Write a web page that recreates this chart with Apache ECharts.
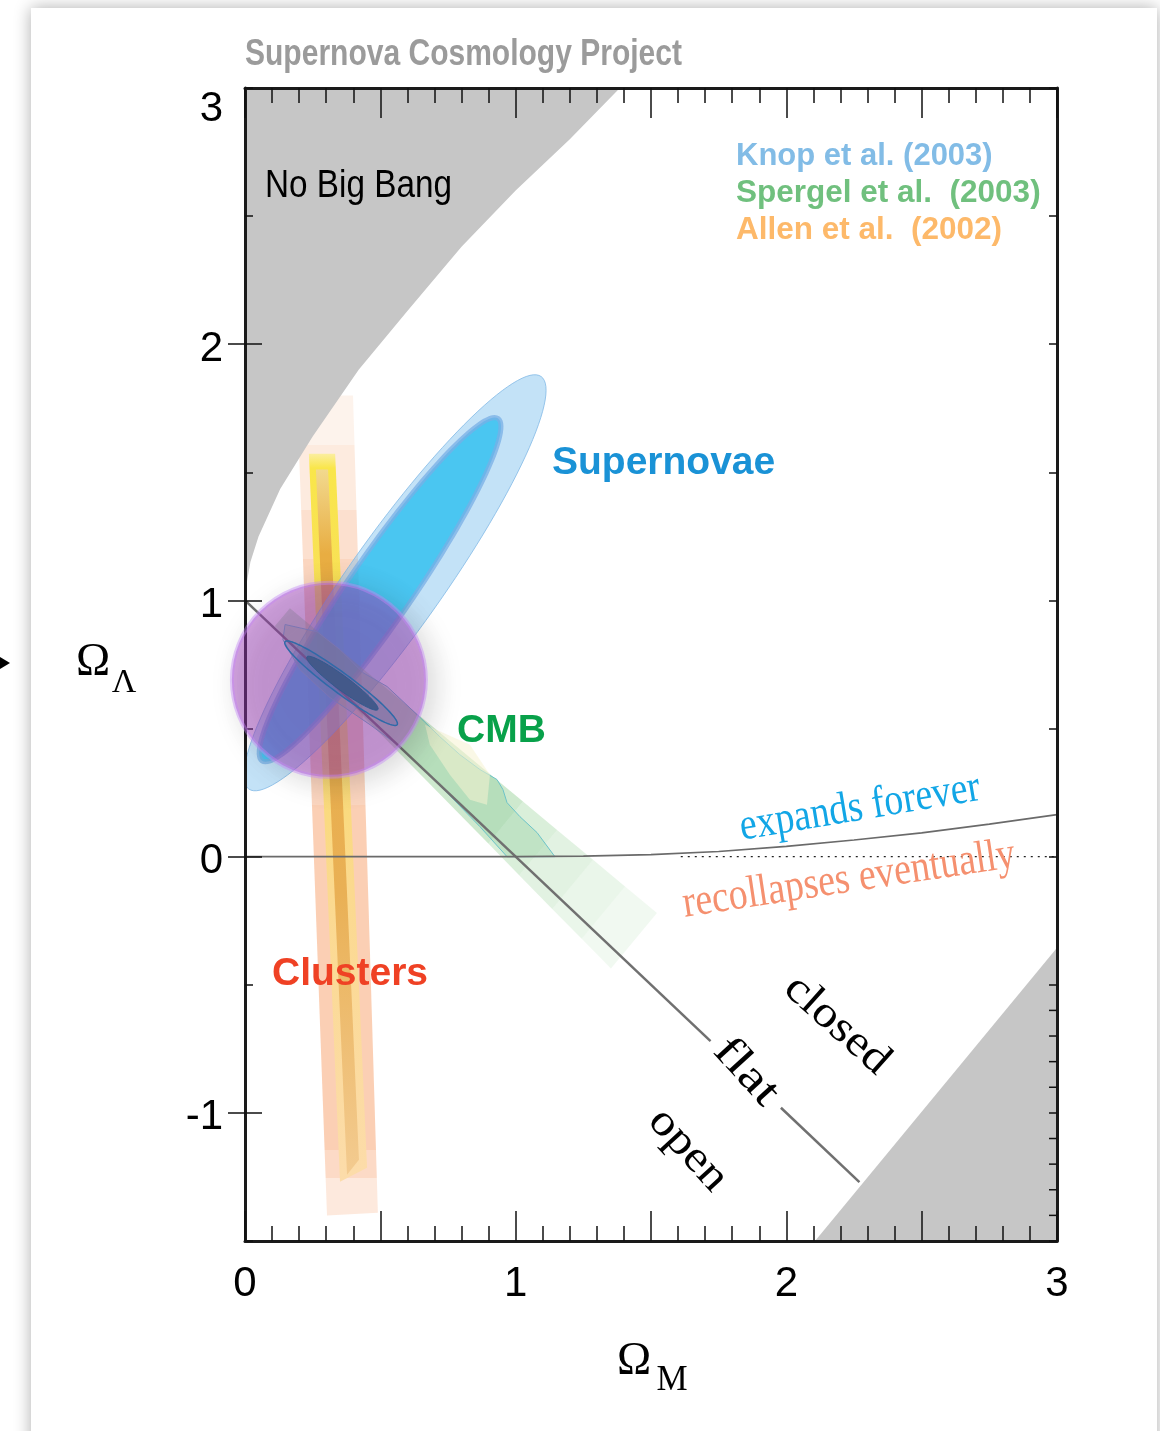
<!DOCTYPE html>
<html>
<head>
<meta charset="utf-8">
<script src="https://cdn.jsdelivr.net/npm/echarts@6/dist/echarts.min.js"></script>
<style>
html, body { margin: 0; padding: 0; background: #fff; width: 1160px; height: 1431px; overflow: hidden; }
#card { position: absolute; left: 31px; top: 8px; width: 1126px; height: 1460px; background: #fff;
        box-shadow: 0 0 16px rgba(0, 0, 0, 0.32); }
#chart { position: absolute; left: 0; top: 0; width: 1160px; height: 1431px; }
</style>
</head>
<body>
<div id="card"></div>
<div id="chart"></div>
<script>
// ---- axes ----------------------------------------------------------------
const omegaMRange = [0, 3];          // Ω_M
const omegaLRange = [-1.5, 3];       // Ω_Λ
const xTickLabels = [0, 1, 2, 3];
const yTickLabels = [-1, 0, 1, 2, 3];
const yLongTicks = [-1, 0, 1, 2];
const rightMinorTicks = [-1.4, -1.3, -1.2, -1.1, -0.9, -0.8, -0.7, -0.6];

// ---- regions and reference lines (Ω_M, Ω_Λ) ------------------------------
const noBigBangEdge = [[0, 1.03], [0.02, 1.15], [0.05, 1.25], [0.13, 1.435], [0.25, 1.64],
                       [0.42, 1.9], [0.6, 2.13], [0.8, 2.38], [1.0, 2.6], [1.2, 2.8], [1.385, 3.0]];
const lowerRightRegion = [[2.106, -1.5], [3.0, -0.355], [3.0, -1.5]];
const flatLineUpper = [[0, 1], [1.72, -0.72]];
const flatLineLower = [[1.98, -0.98], [2.27, -1.27]];
const expandBoundary = [[0, 0], [1.0, 0], [1.25, 0.002], [1.5, 0.008], [1.75, 0.02], [2.0, 0.04],
                        [2.25, 0.065], [2.5, 0.093], [2.75, 0.127], [3.0, 0.164]];
const zeroDotted = [[1.61, 0], [3.0, 0]];

// ---- supernova confidence ellipses: [centre, major semi-axis, minor semi-axis]
const snOuter = [[0.554, 1.069], [0.54, 0.805], [0.142, -0.106]];
const snInner = [[0.499, 1.042], [0.436, 0.668], [0.097, -0.071]];

// ---- cluster bands --------------------------------------------------------
const clusterOuter = [[0.192, 1.80], [0.399, 1.80], [0.491, -1.39], [0.303, -1.40]];
const clusterYellow = [[0.236, 1.573], [0.333, 1.573], [0.451, -1.214], [0.351, -1.269]];
const clusterCore = [[0.262, 1.511], [0.307, 1.511], [0.421, -1.183], [0.377, -1.241]];

// ---- CMB band: cross-sections [upper edge, lower edge] --------------------
const cmbSections = [
  [[0.166, 0.970], [0.110, 0.899]],
  [[1.027, 0.215], [0.899, 0.051]],
  [[1.153, 0.104], [1.013, -0.073]],
  [[1.286, -0.012], [1.135, -0.204]],
  [[1.404, -0.116], [1.244, -0.320]],
  [[1.522, -0.220], [1.352, -0.436]]
];
const cmbSectionAlpha = [0.36, 0.27, 0.21, 0.155, 0.1];
const cmbInner = [[0.148, 0.906], [0.266, 0.878], [0.351, 0.808], [0.436, 0.718], [0.525, 0.664],
                  [0.647, 0.543], [0.720, 0.468], [0.794, 0.398], [0.868, 0.340], [0.931, 0.301],
                  [0.953, 0.262], [0.968, 0.211], [1.016, 0.156], [1.079, 0.094], [1.145, 0.0],
                  [0.968, 0.0], [0.868, 0.117], [0.746, 0.250], [0.573, 0.429], [0.462, 0.515],
                  [0.314, 0.621], [0.203, 0.730], [0.140, 0.847]];
const cmbLight = [[0.665, 0.515], [0.831, 0.437], [0.905, 0.320], [0.894, 0.203], [0.831, 0.222],
                  [0.757, 0.320], [0.683, 0.437]];

// ---- combined contours ----------------------------------------------------
const combinedOuter = [[0.355, 0.677], [0.207, -0.162], [-0.022, -0.031]];
const combinedInner = [[0.360, 0.677], [0.131, -0.103], [-0.0155, -0.022]];
const concordancePoint = [[0.31, 0.69]];

// ---------------------------------------------------------------------------
const SANS = '"Liberation Sans", Arial, Helvetica, sans-serif';
const SERIF = '"Liberation Serif", "Times New Roman", serif';
const LG = echarts.graphic.LinearGradient;

function steps(list) {
  // list of [from, to, colour] -> hard-edged gradient stops
  const out = [];
  list.forEach(([a, b, c]) => { out.push({ offset: a, color: c }); out.push({ offset: b, color: c }); });
  return out;
}

function polygonSeries(id, points, style, z) {
  return {
    type: 'custom', id, z, silent: true, clip: true,
    coordinateSystem: 'cartesian2d', xAxisIndex: 0, yAxisIndex: 0,
    data: points, encode: { x: 0, y: 1 },
    renderItem(params, api) {
      if (params.dataIndex !== 0) return null;
      return { type: 'polygon', shape: { points: points.map(p => api.coord(p)) }, style };
    }
  };
}

function ellipseSeries(id, ell, style, z) {
  const [c, a, b] = ell;
  return {
    type: 'custom', id, z, silent: true, clip: true,
    coordinateSystem: 'cartesian2d', xAxisIndex: 0, yAxisIndex: 0,
    data: [c], encode: { x: 0, y: 1 },
    renderItem(params, api) {
      const pts = [];
      const n = 120;
      for (let i = 0; i < n; i++) {
        const t = (i / n) * Math.PI * 2;
        pts.push(api.coord([c[0] + a[0] * Math.cos(t) + b[0] * Math.sin(t),
                            c[1] + a[1] * Math.cos(t) + b[1] * Math.sin(t)]));
      }
      return { type: 'polygon', shape: { points: pts }, style };
    }
  };
}

function lineSeries(id, data, lineStyle, z) {
  return { type: 'line', id, z, silent: true, data, symbol: 'none', lineStyle,
           xAxisIndex: 0, yAxisIndex: 0, animation: false };
}

const series = [];

// clusters
series.push(polygonSeries('clusterOuter', clusterOuter, {
  fill: new LG(0, 0, 0, 1, steps([
    [0, 0.06, '#fdf3ec'], [0.06, 0.14, '#fdebdf'], [0.14, 0.2, '#fce0cf'],
    [0.2, 0.5, '#fbd6c0'], [0.5, 0.92, '#fbcfb4'], [0.92, 0.955, '#fcdac6'], [0.955, 1, '#fde9dd']
  ]))
}, 2));
series.push(polygonSeries('clusterYellow', clusterYellow, {
  fill: new LG(0, 0, 0, 1, [
    { offset: 0, color: '#fbeea0' }, { offset: 0.02, color: '#f9e64a' }, { offset: 0.3, color: '#f8dc62' },
    { offset: 0.6, color: '#fbd98f' }, { offset: 1, color: '#fcdcaa' }
  ])
}, 3));
series.push(polygonSeries('clusterCore', clusterCore, {
  fill: new LG(0, 0, 0, 1, [
    { offset: 0, color: '#f2d98e' }, { offset: 0.12, color: '#e8ad42' },
    { offset: 0.6, color: '#e9b055' }, { offset: 1, color: '#f3cb90' }
  ])
}, 4));

// excluded regions
series.push(polygonSeries('noBigBang', noBigBangEdge.concat([[0, 3]]), { fill: '#c6c6c6' }, 5));
series.push(polygonSeries('lowerRight', lowerRightRegion, { fill: '#c6c6c6' }, 5));

// supernovae
series.push(ellipseSeries('snOuter', snOuter, {
  fill: 'rgba(140,200,240,0.52)', stroke: 'rgba(130,185,230,0.8)', lineWidth: 1
}, 6));
series.push(ellipseSeries('snInner', snInner, {
  fill: 'rgba(40,190,240,0.78)', stroke: 'rgba(120,175,230,0.75)', lineWidth: 5
}, 7));

// CMB
for (let i = 0; i < cmbSections.length - 1; i++) {
  const [u0, l0] = cmbSections[i];
  const [u1, l1] = cmbSections[i + 1];
  series.push(polygonSeries('cmb' + i, [u0, u1, l1, l0],
    { fill: 'rgba(120,195,120,' + cmbSectionAlpha[i] + ')' }, 8));
}
series.push(polygonSeries('cmbInner', cmbInner, {
  fill: 'rgba(110,190,130,0.25)', stroke: '#6cc3c8', lineWidth: 1
}, 9));
series.push(polygonSeries('cmbLight', cmbLight, { fill: 'rgba(245,242,210,0.55)' }, 10));

// reference lines
series.push(lineSeries('flatA', flatLineUpper, { color: '#707070', width: 2.5 }, 13));
series.push(lineSeries('flatB', flatLineLower, { color: '#707070', width: 2.5 }, 13));
series.push(lineSeries('expand', expandBoundary, { color: '#6a6a6a', width: 1.6 }, 13));
series.push(lineSeries('zeroDot', zeroDotted, { color: '#222', width: 1.4, type: [2, 5] }, 13));

// short ticks on the right frame
series.push({
  type: 'custom', id: 'rightTicks', z: 15, silent: true, clip: false,
  coordinateSystem: 'cartesian2d', xAxisIndex: 0, yAxisIndex: 0,
  data: rightMinorTicks.map(v => [omegaMRange[1], v]), encode: { x: 0, y: 1 },
  renderItem(params, api) {
    const p = api.coord([api.value(0), api.value(1)]);
    return { type: 'line', shape: { x1: p[0], y1: p[1], x2: p[0] - 8, y2: p[1] },
             style: { stroke: '#111', lineWidth: 1.5 } };
  }
});

// concordance circle
series.push({
  type: 'scatter', id: 'concordance', z: 20, silent: true, clip: false,
  xAxisIndex: 0, yAxisIndex: 0,
  data: concordancePoint, symbol: 'circle', symbolSize: 194,
  itemStyle: {
    color: 'rgba(160,60,190,0.58)', borderColor: 'rgba(195,135,245,0.55)', borderWidth: 4,
    shadowBlur: 30, shadowColor: 'rgba(0,0,0,0.33)', shadowOffsetX: 8, shadowOffsetY: 6
  }
});

// combined SN + CMB contours, on top of the circle
series.push(ellipseSeries('combOuter', combinedOuter, {
  fill: 'rgba(80,95,160,0.22)', stroke: '#2f6aa8', lineWidth: 1.5
}, 21));
series.push(ellipseSeries('combInner', combinedInner, {
  fill: '#43598a', stroke: '#2f5a90', lineWidth: 1
}, 22));

const labelRich = {
  p: { fontSize: 42, fontFamily: SANS, color: '#000', padding: [10, 0, 0, 0] },
  q: { fontSize: 42, fontFamily: SANS, color: '#000' }
};
const xLabel = v => xTickLabels.includes(v) ? '{q|' + v + '}' : '';
const yLabel = v => yTickLabels.includes(v) ? (v === omegaLRange[1] ? '{q|' + v + '}' : '{p|' + v + '}') : '';
const frameLine = { show: true, onZero: false, lineStyle: { color: '#1a1a1a', width: 3 } };
const tickStyle = { color: '#111', width: 1.5 };

function xAxis(pos, withLabels) {
  return {
    type: 'value', position: pos, min: omegaMRange[0], max: omegaMRange[1], interval: 0.5, z: 14,
    axisLine: frameLine, splitLine: { show: false },
    axisTick: { show: true, inside: true, length: 30, lineStyle: tickStyle },
    minorTick: { show: true, splitNumber: 5, length: 15, lineStyle: tickStyle },
    axisLabel: withLabels ? { show: true, formatter: xLabel, rich: labelRich, margin: 22 } : { show: false }
  };
}
function yAxis(pos, withLabels, longOnly) {
  return {
    type: 'value', position: pos, min: omegaLRange[0], max: omegaLRange[1], interval: 0.5, z: 14,
    axisLine: longOnly ? { show: false } : frameLine, splitLine: { show: false },
    axisTick: longOnly
      ? { show: true, inside: true, length: 17, customValues: yLongTicks, lineStyle: tickStyle }
      : { show: true, inside: true, length: 8, lineStyle: tickStyle },
    axisLabel: withLabels ? { show: true, formatter: yLabel, rich: labelRich, margin: 22,
                              verticalAlignMaxLabel: 'top' } : { show: false }
  };
}

// annotation texts; w = width the text is fitted to horizontally
const texts = [
  { x: 245, y: 55, text: 'Supernova Cosmology Project', font: 'bold 36px ' + SANS, fill: '#9b9b9b', align: 'left', w: 437 },
  { x: 265, y: 187, text: 'No Big Bang', font: '38px ' + SANS, fill: '#000', align: 'left', w: 187 },
  { x: 736, y: 156, text: 'Knop et al. (2003)', font: 'bold 31px ' + SANS, fill: '#82bce6', align: 'left' },
  { x: 736, y: 193, text: 'Spergel et al.  (2003)', font: 'bold 31.5px ' + SANS, fill: '#70c07e', align: 'left' },
  { x: 736, y: 230, text: 'Allen et al.  (2002)', font: 'bold 31.5px ' + SANS, fill: '#fdb96a', align: 'left' },
  { x: 552, y: 463, text: 'Supernovae', font: 'bold 39px ' + SANS, fill: '#1a92d6', align: 'left' },
  { x: 457, y: 731, text: 'CMB', font: 'bold 39px ' + SANS, fill: '#08a14a', align: 'left' },
  { x: 272, y: 974, text: 'Clusters', font: 'bold 39px ' + SANS, fill: '#ef4124', align: 'left' },
  { x: 860, y: 808, text: 'expands forever', font: '45px ' + SERIF, fill: '#12a6e6', align: 'center', rotation: 0.166, w: 243 },
  { x: 849, y: 880, text: 'recollapses eventually', font: '45px ' + SERIF, fill: '#f5906f', align: 'center', rotation: 0.15, w: 336 },
  { x: 837, y: 1025, text: 'closed', font: '44px ' + SERIF, fill: '#000', align: 'center', rotation: -0.73, w: 127 },
  { x: 746, y: 1072, text: 'flat', font: '44px ' + SERIF, fill: '#000', align: 'center', rotation: -0.83, w: 76 },
  { x: 688, y: 1150, text: 'open', font: '44px ' + SERIF, fill: '#000', align: 'center', rotation: -0.83, w: 97 },
  { x: 93, y: 663, text: 'Ω', font: '46px ' + SERIF, fill: '#000', align: 'center' },
  { x: 124, y: 683, text: 'Λ', font: '34px ' + SERIF, fill: '#000', align: 'center' },
  { x: 634, y: 1362, text: 'Ω', font: '46px ' + SERIF, fill: '#000', align: 'center' },
  { x: 672, y: 1381, text: 'M', font: '35px ' + SERIF, fill: '#000', align: 'center' }
];

const measureCtx = document.createElement('canvas').getContext('2d');
function fitScale(t) {
  if (!t.w) return 1;
  measureCtx.font = t.font;
  const m = measureCtx.measureText(t.text).width;
  return m > 0 ? t.w / m : 1;
}

const graphic = texts.map(t => ({
  type: 'text', x: t.x, y: t.y, rotation: t.rotation || 0, scaleX: fitScale(t), z: 100, silent: true,
  style: { text: t.text, font: t.font, fill: t.fill, align: t.align, verticalAlign: 'middle' }
}));
graphic.push({
  type: 'polygon', z: 100, silent: true,
  shape: { points: [[0, 657], [10, 663], [0, 669]] }, style: { fill: '#000' }
});

const chart = echarts.init(document.getElementById('chart'), null, { renderer: 'canvas' });
chart.setOption({
  animation: false,
  backgroundColor: 'transparent',
  grid: { left: 245, top: 88, width: 812, height: 1153, containLabel: false },
  xAxis: [xAxis('bottom', true), xAxis('top', false)],
  yAxis: [yAxis('left', true, false), yAxis('left', false, true),
          yAxis('right', false, false), yAxis('right', false, true)],
  series,
  graphic
});
</script>
</body>
</html>
